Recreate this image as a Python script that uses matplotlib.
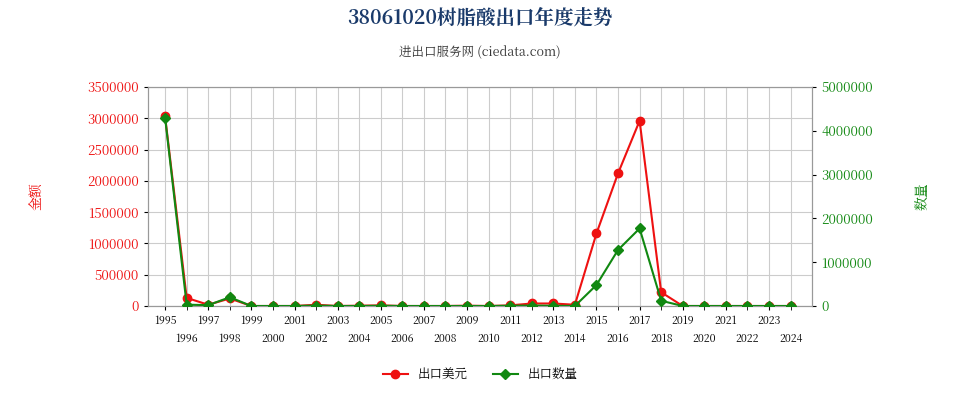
import matplotlib
matplotlib.use("Agg")
import matplotlib.pyplot as plt
from matplotlib import font_manager

years = list(range(1995, 2025))
amount = [3030000, 130000, 20000, 120000, 0, 0, 0, 20000, 0, 5000, 10000, 0, 0, 0, 5000, 0,
          10000, 40000, 40000, 20000, 1160000, 2120000, 2960000, 220000, 0, 0, 0, 0, 0, 0]
quantity = [4300000, 30000, 20000, 200000, 0, 0, 0, 10000, 0, 0, 5000, 0, 0, 0, 0, 0,
            5000, 10000, 5000, 0, 480000, 1280000, 1770000, 120000, 0, 0, 0, 0, 0, 0]

cjk = [f.name for f in font_manager.fontManager.ttflist if "CJK" in f.name]
pref = [n for n in cjk if "SC" in n] or cjk
plt.rcParams["font.family"] = (pref[:1] if pref else []) + ["DejaVu Sans"]

fig = plt.figure(figsize=(9.6, 4), dpi=100)
ax = fig.add_axes([0.154, 0.235, 0.692, 0.5475])
ax2 = ax.twinx()

ax.plot(years, amount, color="#ee1111", marker="o", markersize=6, lw=1.5, label="出口美元", zorder=3)
ax2.plot(years, quantity, color="#118811", marker="D", markersize=5, lw=1.5, label="出口数量", zorder=4)

ax.set_xlim(1994.2, 2025)
ax.set_ylim(0, 3500000)
ax2.set_ylim(0, 5000000)
ax.set_yticks(range(0, 3500001, 500000))
ax2.set_yticks(range(0, 5000001, 1000000))
ax.set_yticklabels([str(v) for v in range(0, 3500001, 500000)], color="#ee1111", fontsize=9.5)
ax2.set_yticklabels([str(v) for v in range(0, 5000001, 1000000)], color="#118811", fontsize=9.5)
ax.set_xticks(years[::2])
ax.set_xticklabels([str(y) for y in years[::2]], fontsize=7.5)
ax.set_xticks(years[1::2], minor=True)
ax.set_xticklabels([str(y) for y in years[1::2]], minor=True, fontsize=7.5)
ax.tick_params(axis="x", which="minor", pad=16, length=3)
ax.grid(True, which="both", axis="x", color="#cccccc", lw=0.8)
ax.grid(True, axis="y", color="#cccccc", lw=0.8)
ax.set_axisbelow(True)
for a in (ax, ax2):
    for s in a.spines.values():
        s.set_color("#999999")
ax.tick_params(length=3)
ax2.tick_params(length=3)
ax.set_ylabel("金额", color="#ee1111", fontsize=10, labelpad=30)
ax2.set_ylabel("数量", color="#118811", fontsize=10, labelpad=30)

fig.text(0.5, 0.94, "38061020树脂酸出口年度走势", ha="center", fontsize=14, fontweight="bold", color="#1a3a6a")
fig.text(0.5, 0.86, "进出口服务网 (ciedata.com)", ha="center", fontsize=9, color="#333333")

h1, l1 = ax.get_legend_handles_labels()
h2, l2 = ax2.get_legend_handles_labels()
fig.legend(h1 + h2, l1 + l2, loc="center", bbox_to_anchor=(0.5, 0.065), ncol=2, frameon=False, fontsize=9)
fig.savefig("out.png", dpi=100)
